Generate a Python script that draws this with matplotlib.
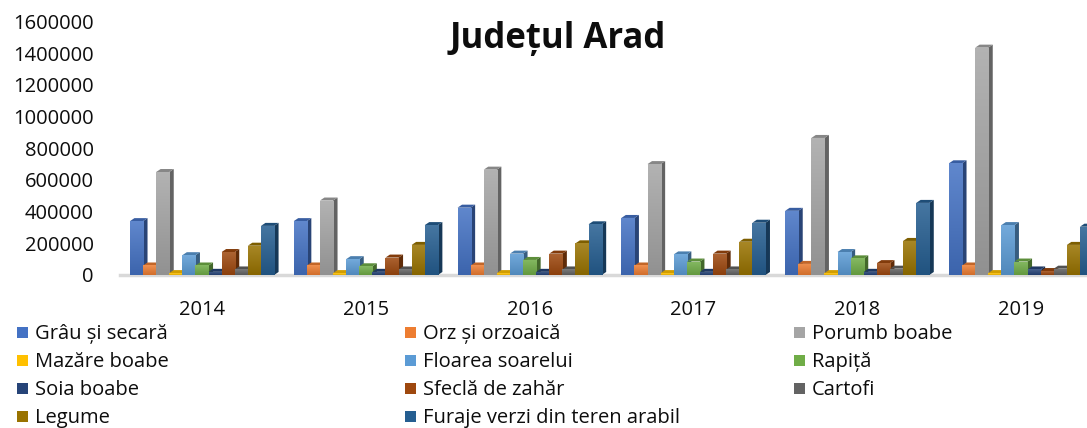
import numpy as np
import matplotlib
matplotlib.use("Agg")
import matplotlib.pyplot as plt
from matplotlib.patches import Polygon, Rectangle
from matplotlib.colors import to_rgb

plt.rcParams['font.family'] = ['Open Sans', 'DejaVu Sans']

years = ["2014", "2015", "2016", "2017", "2018", "2019"]

culturi = ["Grâu și secară", "Orz și orzoaică", "Porumb boabe",
           "Mazăre boabe", "Floarea soarelui", "Rapiță",
           "Soia boabe", "Sfeclă de zahăr", "Cartofi",
           "Legume", "Furaje verzi din teren arabil"]

grau = [340000, 340000, 425000, 360000, 405000, 705000]
orz = [60000, 60000, 60000, 60000, 70000, 60000]
porumb = [650000, 470000, 665000, 700000, 865000, 1435000]
mazare = [12000, 12000, 12000, 12000, 12000, 12000]
floarea = [125000, 100000, 135000, 130000, 145000, 315000]
rapita = [60000, 55000, 95000, 85000, 105000, 85000]
soia = [20000, 20000, 20000, 20000, 20000, 35000]
sfecla = [145000, 110000, 135000, 135000, 75000, 25000]
cartofi = [35000, 35000, 35000, 35000, 40000, 40000]
legume = [185000, 190000, 200000, 210000, 215000, 190000]
furaje = [310000, 315000, 320000, 330000, 455000, 305000]

series = [grau, orz, porumb, mazare, floarea, rapita,
          soia, sfecla, cartofi, legume, furaje]

colors = ["#4472C4", "#ED7D31", "#A5A5A5", "#FFC000", "#5B9BD5", "#70AD47",
          "#264478", "#9E480E", "#636363", "#997300", "#255E91"]


def shade(c, f):
    r = np.array(to_rgb(c))
    if f >= 1:
        return tuple(r + (1 - r) * (f - 1))
    return tuple(r * f)


W, H = 1087, 428
fig = plt.figure(figsize=(W / 100, H / 100), dpi=100)
ax = fig.add_axes([120.1 / W, (H - 275) / H, 982.8 / W, 253.5 / H])
ax.set_xlim(-0.5, 5.5)
ax.set_ylim(0, 1600000)

# depth of the pseudo-3D bars, in data units
dx = 4.5 * 6.0 / 982.8
dy = 3 * 1600000 / 253.5
bw = 0.08

x = np.arange(len(years))
z = 3
for k, (vals, col) in enumerate(zip(series, colors)):
    xs = x + (k - 5) * bw
    bars = ax.bar(xs, vals, bw, color=col, linewidth=0, zorder=z)
    for b, h in zip(bars, vals):
        x0 = b.get_x()
        x1 = x0 + b.get_width()
        b.set_zorder(z + 2)
        grad = np.linspace(0, 1, 64)[:, None, None]
        top_c = np.array(shade(col, 1.15))
        bot_c = np.array(shade(col, 0.88))
        img = top_c * (1 - grad) + bot_c * grad
        im = ax.imshow(img, extent=(x0, x1, 0, h), aspect='auto',
                       origin='upper', zorder=z + 2, interpolation='bilinear')
        im.set_clip_path(b)
        side = Polygon([(x1, 0), (x1 + dx, dy), (x1 + dx, h + dy), (x1, h)],
                       closed=True, fc=shade(col, 0.6), lw=0, zorder=z)
        top = Polygon([(x0, h), (x0 + dx, h + dy), (x1 + dx, h + dy), (x1, h)],
                      closed=True, fc=shade(col, 0.82), lw=0, zorder=z + 1)
        ax.add_patch(side)
        ax.add_patch(top)
    z += 3

ax.set_xlim(-0.5, 5.5)
ax.set_ylim(0, 1600000)

for s in ["top", "right", "left"]:
    ax.spines[s].set_visible(False)
ax.spines["bottom"].set_color("#d9d9d9")
ax.spines["bottom"].set_linewidth(2.5)
ax.spines["bottom"].set_zorder(1)

ax.set_yticks(np.arange(0, 1600001, 200000))
ax.set_yticklabels([str(v) for v in range(0, 1600001, 200000)])
ax.set_xticks(x)
ax.set_xticklabels(years)
ax.tick_params(axis='y', length=0, pad=19, labelsize=14.5, labelcolor="#0d0d0d")
ax.tick_params(axis='x', length=0, pad=18, labelsize=14.5, labelcolor="#0d0d0d")

fig.text(558 / W, (H - 48) / H, "Județul Arad", ha='center', va='baseline',
         fontsize=25, fontweight='bold', color="#0d0d0d")

# legend laid out row by row, three per row
col_x = [17, 405, 794]
row_base = [339, 367, 395, 423]
for i, (name, col) in enumerate(zip(culturi, colors)):
    r, c = divmod(i, 3)
    mx = col_x[c]
    yb = row_base[r]
    fig.patches.append(Rectangle((mx / W, (H - yb + 1) / H), 11 / W, 11 / H,
                                 transform=fig.transFigure, fc=col, lw=0))
    fig.text((mx + 18) / W, (H - yb) / H, name, ha='left', va='baseline',
             fontsize=14.5, color="#0d0d0d")

fig.savefig("out.png", dpi=100)
